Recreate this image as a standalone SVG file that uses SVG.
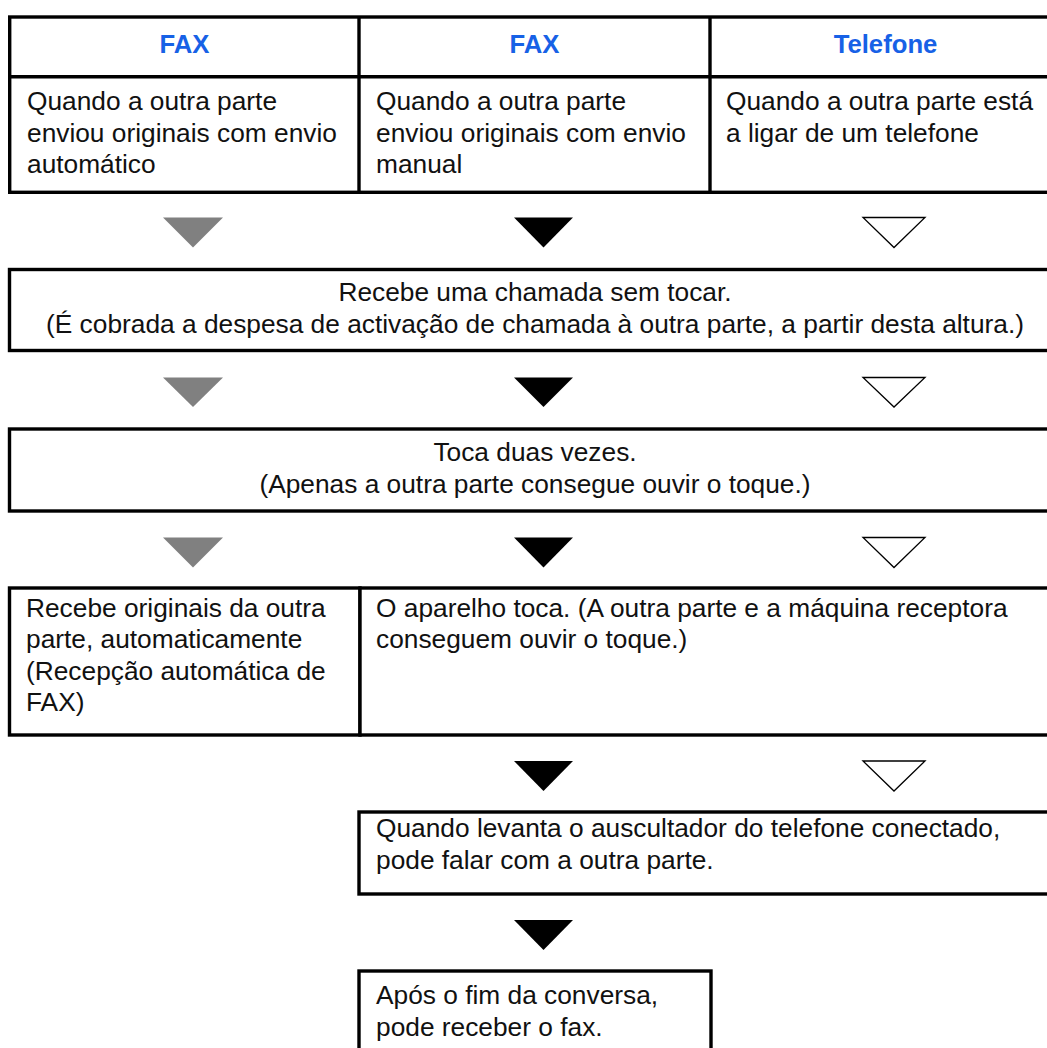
<svg xmlns="http://www.w3.org/2000/svg" width="1047" height="1048" viewBox="0 0 1047 1048">
<style>
.box{fill:#fff;stroke:#000;stroke-width:3.4}
.ln{stroke:#000;stroke-width:3.4;fill:none}
.t{font-family:"Liberation Sans",Arial,sans-serif;font-size:26.3px;fill:#111}
.c{text-anchor:middle}
.h{font-family:"Liberation Sans",Arial,sans-serif;font-size:25.7px;font-weight:bold;fill:#1761e6;text-anchor:middle}
.g{fill:#808080}
.b{fill:#000}
.w{fill:#fff;stroke:#000;stroke-width:1.3}
</style>
<rect width="1047" height="1048" fill="#fff"/>
<g id="table">
<rect class="box" x="9.7" y="17" width="1060" height="175.3"/>
<line class="ln" x1="9.7" y1="76.7" x2="1070" y2="76.7"/>
<line class="ln" x1="359" y1="17" x2="359" y2="192.3"/>
<line class="ln" x1="710" y1="17" x2="710" y2="192.3"/>
<text class="h" x="184.5" y="53">FAX</text>
<text class="h" x="534.5" y="53">FAX</text>
<text class="h" x="885.5" y="53">Telefone</text>
<text class="t" x="27"><tspan x="27" y="110">Quando a outra parte</tspan><tspan x="27" y="141.5">enviou originais com envio</tspan><tspan x="27" y="173">automático</tspan></text>
<text class="t" x="376"><tspan x="376" y="110">Quando a outra parte</tspan><tspan x="376" y="141.5">enviou originais com envio</tspan><tspan x="376" y="173">manual</tspan></text>
<text class="t" x="726"><tspan x="726" y="110">Quando a outra parte está</tspan><tspan x="726" y="141.5">a ligar de um telefone</tspan></text>
</g>
<g id="connectors">
<polygon class="g" points="163,217.5 223,217.5 193,247.5"/>
<polygon class="b" points="514,217.5 573,217.5 543.5,247.5"/>
<polygon class="w" points="863,217.5 925,217.5 894,247.5"/>
<polygon class="g" points="163,377.5 223,377.5 193,407"/>
<polygon class="b" points="514,377.5 573,377.5 543.5,407"/>
<polygon class="w" points="863,377.5 925,377.5 894,407"/>
<polygon class="g" points="163,537.5 223,537.5 193,567.5"/>
<polygon class="b" points="514,537.5 573,537.5 543.5,567.5"/>
<polygon class="w" points="863,537.5 925,537.5 894,567.5"/>
<polygon class="b" points="514,761 573,761 543.5,791"/>
<polygon class="w" points="863,761 925,761 894,791"/>
<polygon class="b" points="514,920 573,920 543.5,950"/>
</g>
<g id="n-ring-free">
<rect class="box" x="9.5" y="269.5" width="1060" height="81"/>
<text class="t c" x="535" y="301">Recebe uma chamada sem tocar.</text>
<text class="t c" x="535" y="333">(É cobrada a despesa de activação de chamada à outra parte, a partir desta altura.)</text>
</g>
<g id="n-rings-twice">
<rect class="box" x="9.5" y="429" width="1060" height="82"/>
<text class="t c" x="535" y="461">Toca duas vezes.</text>
<text class="t c" x="535" y="493">(Apenas a outra parte consegue ouvir o toque.)</text>
</g>
<g id="n-auto-receive">
<rect class="box" x="9.5" y="588" width="350.5" height="147"/>
<text class="t"><tspan x="26" y="616.5">Recebe originais da outra</tspan><tspan x="26" y="648">parte, automaticamente</tspan><tspan x="26" y="679.5">(Recepção automática de</tspan><tspan x="26" y="711">FAX)</tspan></text>
</g>
<g id="n-phone-rings">
<rect class="box" x="360" y="588" width="710" height="147"/>
<text class="t"><tspan x="376" y="616.5">O aparelho toca. (A outra parte e a máquina receptora</tspan><tspan x="376" y="648">conseguem ouvir o toque.)</tspan></text>
</g>
<g id="n-talk">
<rect class="box" x="359" y="812" width="711" height="82"/>
<text class="t"><tspan x="376" y="837">Quando levanta o auscultador do telefone conectado,</tspan><tspan x="376" y="868.5">pode falar com a outra parte.</tspan></text>
</g>
<g id="n-receive-fax">
<rect class="box" x="359" y="971" width="352" height="100"/>
<text class="t"><tspan x="376" y="1004">Após o fim da conversa,</tspan><tspan x="376" y="1036">pode receber o fax.</tspan></text>
</g>
</svg>
